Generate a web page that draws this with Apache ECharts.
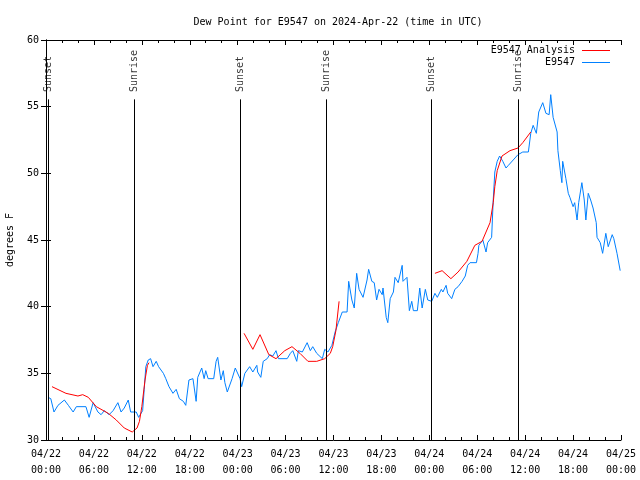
<!DOCTYPE html>
<html><head><meta charset="utf-8">
<script src="https://cdn.jsdelivr.net/npm/echarts@6/dist/echarts.min.js"></script>
<style>html,body{margin:0;padding:0;background:#fff}#c{width:640px;height:480px}</style>
</head><body><div id="c"></div>
<script>
// hours since 04/22 00:00 UTC
const obsHours = [0.25,0.6,1.0,1.5,2.3,2.8,3.4,3.8,5.0,5.4,5.9,6.1,6.5,6.9,7.3,7.9,8.4,9.0,9.4,9.8,10.3,10.6,11.3,11.6,12.1,12.3,12.5,12.8,13.1,13.4,13.8,14.1,14.7,15.0,15.4,15.9,16.3,16.7,17.2,17.5,17.9,18.4,18.8,19.0,19.5,19.8,20.0,20.3,21.0,21.3,21.5,21.9,22.2,22.4,22.7,22.9,23.3,23.7,23.9,24.3,24.5,24.9,25.5,25.9,26.4,26.5,26.9,27.2,27.7,28.0,28.4,28.8,29.1,30.2,30.6,30.9,31.4,31.6,32.1,32.7,33.1,33.4,33.9,34.6,34.9,35.3,35.8,36.2,36.6,37.1,37.7,37.9,38.3,38.6,38.9,39.2,39.7,40.2,40.4,40.8,41.1,41.4,41.7,42.1,42.2,42.6,42.8,43.1,43.5,43.7,44.1,44.6,44.7,45.2,45.5,45.8,46.0,46.5,46.8,47.1,47.5,47.8,48.3,48.7,49.0,49.5,49.7,50.1,50.3,50.8,51.2,51.6,52.1,52.5,52.8,53.1,53.9,54.1,54.2,54.7,55.1,55.3,55.8,56.0,56.2,56.5,56.8,57.2,57.6,57.9,58.5,59.1,59.7,60.4,60.7,61.0,61.4,61.7,62.2,62.6,63.0,63.2,63.5,64.0,64.1,64.4,64.6,64.7,65.1,65.4,65.6,66.0,66.2,66.5,66.7,67.1,67.4,67.6,67.9,68.2,68.5,68.9,69.0,69.4,69.7,70.1,70.4,70.9,71.1,71.5,71.9];
const obsValues = [33.2,33.1,32.1,32.6,33.0,32.6,32.1,32.5,32.5,31.7,32.8,32.9,32.1,31.9,32.2,31.9,32.2,32.8,32.1,32.4,33.0,32.1,32.1,31.7,32.2,33.8,35.5,36.0,36.1,35.5,35.9,35.5,35.0,34.6,34.0,33.5,33.8,33.1,32.9,32.6,34.5,34.6,32.9,34.7,35.4,34.6,35.2,34.6,34.6,35.9,36.2,34.5,35.2,34.3,33.6,33.7,34.6,35.4,35.3,34.6,34.0,35.0,35.5,35.1,35.6,35.1,34.7,35.9,36.1,36.4,36.3,36.7,36.1,36.1,36.5,36.7,35.9,36.7,36.6,37.3,36.7,37.0,36.5,36.1,36.8,36.6,37.1,38.1,38.8,39.6,39.6,41.9,40.5,39.9,42.5,41.3,40.7,42.0,42.8,41.9,41.8,40.5,41.3,40.9,41.4,39.2,38.8,40.6,41.1,42.2,41.8,43.1,41.9,42.2,39.7,40.4,39.7,39.7,41.4,39.9,41.3,40.5,40.4,41.0,40.7,41.3,41.1,41.6,41.0,40.6,41.3,41.5,41.9,42.3,43.1,43.3,43.3,44.0,44.6,45.0,44.1,44.8,45.2,48.0,50.1,50.9,51.3,50.9,50.4,50.6,51.0,51.4,51.6,51.6,53.0,53.6,53.0,54.6,55.3,54.5,54.4,55.9,54.2,53.1,51.7,50.2,49.3,50.9,49.6,48.5,48.2,47.5,47.8,46.5,47.8,49.3,48.0,46.5,48.5,48.0,47.4,46.3,45.2,44.8,44.0,45.5,44.5,45.4,45.1,44.0,42.7];
const anaHours = [0.75,2.5,4.0,4.6,5.3,6.3,7.8,8.8,9.8,10.8,11.4,11.7,12.0,12.4,12.7,12.9,18,24.8,25.9,26.8,27.9,28.8,29.9,30.8,31.8,32.8,33.9,34.9,35.6,35.9,36.3,36.7,42,48.7,49.6,50.7,51.6,52.7,53.7,54.6,55.6,56.0,56.2,56.5,57.1,58.1,59.1,59.7,60.7];
const anaValues = [34.0,33.5,33.3,33.4,33.2,32.5,32.0,31.5,30.9,30.6,30.9,31.4,32.5,34.5,35.6,35.8,null,38.0,36.8,37.9,36.4,36.1,36.7,37.0,36.5,35.9,35.9,36.1,36.5,37.0,38.2,40.4,null,42.5,42.7,42.1,42.6,43.4,44.6,44.9,46.3,47.8,49.0,50.2,51.3,51.7,51.9,52.3,53.1];
const sunHours = [0.3,11.1,24.35,35.05,48.3,59.1];
const sunLabels = ['Sunset','Sunrise','Sunset','Sunrise','Sunset','Sunrise'];
const yTicks = [30,35,40,45,50,55,60];
const dayNames = ['04/22','04/23','04/24','04/25'];

const FONT = 'DejaVu Sans Mono';
const zip = (a,b) => a.map((v,i)=>[v, b[i]===null ? '-' : b[i]]);
function xLabel(v){
  const d = Math.floor(v/24), h = v%24;
  return dayNames[d] + '\n' + String(h).padStart(2,'0') + ':00';
}
const commonX = {type:'value', min:0, max:72, interval:6,
  axisLine:{show:true, lineStyle:{color:'#000', width:1}},
  axisTick:{show:true, inside:true, length:5, lineStyle:{color:'#000'}},
  minorTick:{show:true, splitNumber:3, length:3, lineStyle:{color:'#000'}},
  splitLine:{show:false}, minorSplitLine:{show:false}};
const commonY = {type:'value', min:30, max:60, interval:5,
  axisLine:{show:true, lineStyle:{color:'#000', width:1}},
  axisTick:{show:true, inside:true, length:5, lineStyle:{color:'#000'}},
  splitLine:{show:false}};

const chart = echarts.init(document.getElementById('c'), null, {renderer:'canvas'});
chart.setOption({
  animation:false,
  backgroundColor:'#fff',
  textStyle:{fontFamily:FONT},
  title:{text:'Dew Point for E9547 on 2024-Apr-22 (time in UTC)', left:333, textAlign:'center', top:12,
    textStyle:{fontFamily:FONT, fontSize:10, fontWeight:'normal', color:'#000'}},
  grid:{left:46, right:19, top:40, bottom:40, show:false, containLabel:false, outerBoundsMode:'none'},
  legend:{orient:'vertical', right:25, top:39, align:'right', itemWidth:28, itemHeight:1, itemGap:-1,
    data:[{name:'E9547 Analysis', icon:'rect'},{name:'E9547', icon:'rect'}],
    textStyle:{fontFamily:FONT, fontSize:10, color:'#000', lineHeight:13, height:13, padding:[0,2,0,0]}},
  xAxis:[
    Object.assign({}, commonX, {position:'bottom',
      axisLabel:{formatter:xLabel, fontFamily:FONT, fontSize:10, color:'#000', lineHeight:16, margin:6}}),
    Object.assign({}, commonX, {position:'top', axisLabel:{show:false}})
  ],
  yAxis:[
    Object.assign({}, commonY, {position:'left', name:'degrees F', nameLocation:'middle', nameGap:31, nameRotate:90,
      nameTextStyle:{fontFamily:FONT, fontSize:10, color:'#000'},
      axisLabel:{fontFamily:FONT, fontSize:10, color:'#000', margin:7,
        formatter:v=> yTicks.includes(v) ? String(v) : ''}}),
    Object.assign({}, commonY, {position:'right', axisLabel:{show:false}})
  ],
  series:[
    {name:'sun', type:'scatter', z:1, silent:true, symbolSize:0,
      data:sunHours.map((h,i)=>({value:[h,56.1], label:{formatter:sunLabels[i]}})),
      label:{show:true, position:'inside', rotate:90, align:'left', verticalAlign:'middle',
        fontFamily:FONT, fontSize:10, color:'#000'},
      markLine:{silent:true, symbol:'none', animation:false, label:{show:false},
        lineStyle:{color:'#000', width:1, type:'solid'},
        data:sunHours.map(h=>[{coord:[h,55.55]},{coord:[h,30]}])}},
    {name:'E9547 Analysis', type:'line', z:3, showSymbol:false, symbol:'none', connectNulls:false,
      data:zip(anaHours, anaValues), lineStyle:{color:'#ff0000', width:1}, itemStyle:{color:'#ff0000'}},
    {name:'E9547', type:'line', z:2, showSymbol:false, symbol:'none',
      data:zip(obsHours, obsValues), lineStyle:{color:'#0080ff', width:1}, itemStyle:{color:'#0080ff'}}
  ]
});
</script>
</body></html>
